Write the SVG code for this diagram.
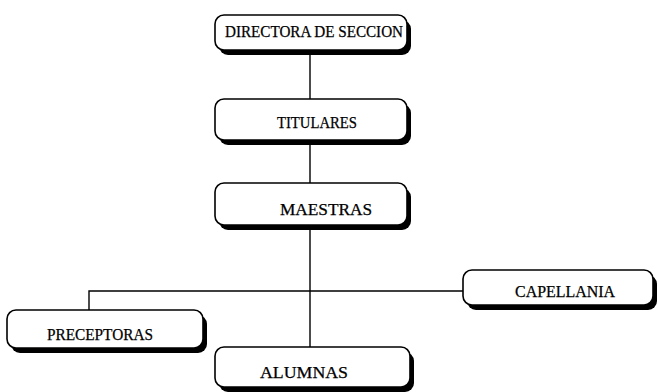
<svg xmlns="http://www.w3.org/2000/svg" width="658" height="392" viewBox="0 0 658 392">
<style>
.sh{fill:#000}
.bx{fill:#fff;stroke:#000;stroke-width:1.6}
.lb{font-family:"Liberation Serif","Times New Roman",serif;font-size:16px;fill:#000;stroke:#000;stroke-width:0.25}
.ln{stroke:#000;stroke-width:1.4;fill:none}
</style>
<rect width="658" height="392" fill="#fff"/>
<g id="connectors">
<path class="ln" d="M310 50V99M310 140V183M310 225V347M89 310V291H463"/>
</g>
<g id="director">
<rect class="sh" x="219" y="20" width="192" height="35" rx="9"/>
<rect class="bx" x="215" y="15" width="192" height="35" rx="9"/>
<text class="lb" x="225" y="37" textLength="178" lengthAdjust="spacingAndGlyphs">DIRECTORA DE SECCION</text>
</g>
<g id="titulares">
<rect class="sh" x="219" y="104" width="192" height="41" rx="9"/>
<rect class="bx" x="215" y="99" width="192" height="41" rx="9"/>
<text class="lb" x="277" y="128" textLength="80" lengthAdjust="spacingAndGlyphs">TITULARES</text>
</g>
<g id="maestras">
<rect class="sh" x="219" y="188" width="192" height="42" rx="9"/>
<rect class="bx" x="215" y="183" width="192" height="42" rx="9"/>
<text class="lb" x="280" y="215" textLength="92" lengthAdjust="spacingAndGlyphs">MAESTRAS</text>
</g>
<g id="capellania">
<rect class="sh" x="467" y="275" width="190" height="35" rx="9"/>
<rect class="bx" x="463" y="270" width="190" height="35" rx="9"/>
<text class="lb" x="515" y="297" textLength="100" lengthAdjust="spacingAndGlyphs">CAPELLANIA</text>
</g>
<g id="preceptoras">
<rect class="sh" x="11" y="315" width="196" height="38" rx="9"/>
<rect class="bx" x="7" y="310" width="196" height="38" rx="9"/>
<text class="lb" x="47" y="340" textLength="106" lengthAdjust="spacingAndGlyphs">PRECEPTORAS</text>
</g>
<g id="alumnas">
<rect class="sh" x="219" y="352" width="195" height="40" rx="9"/>
<rect class="bx" x="215" y="347" width="195" height="40" rx="9"/>
<text class="lb" x="260" y="378" textLength="88" lengthAdjust="spacingAndGlyphs">ALUMNAS</text>
</g>
</svg>
